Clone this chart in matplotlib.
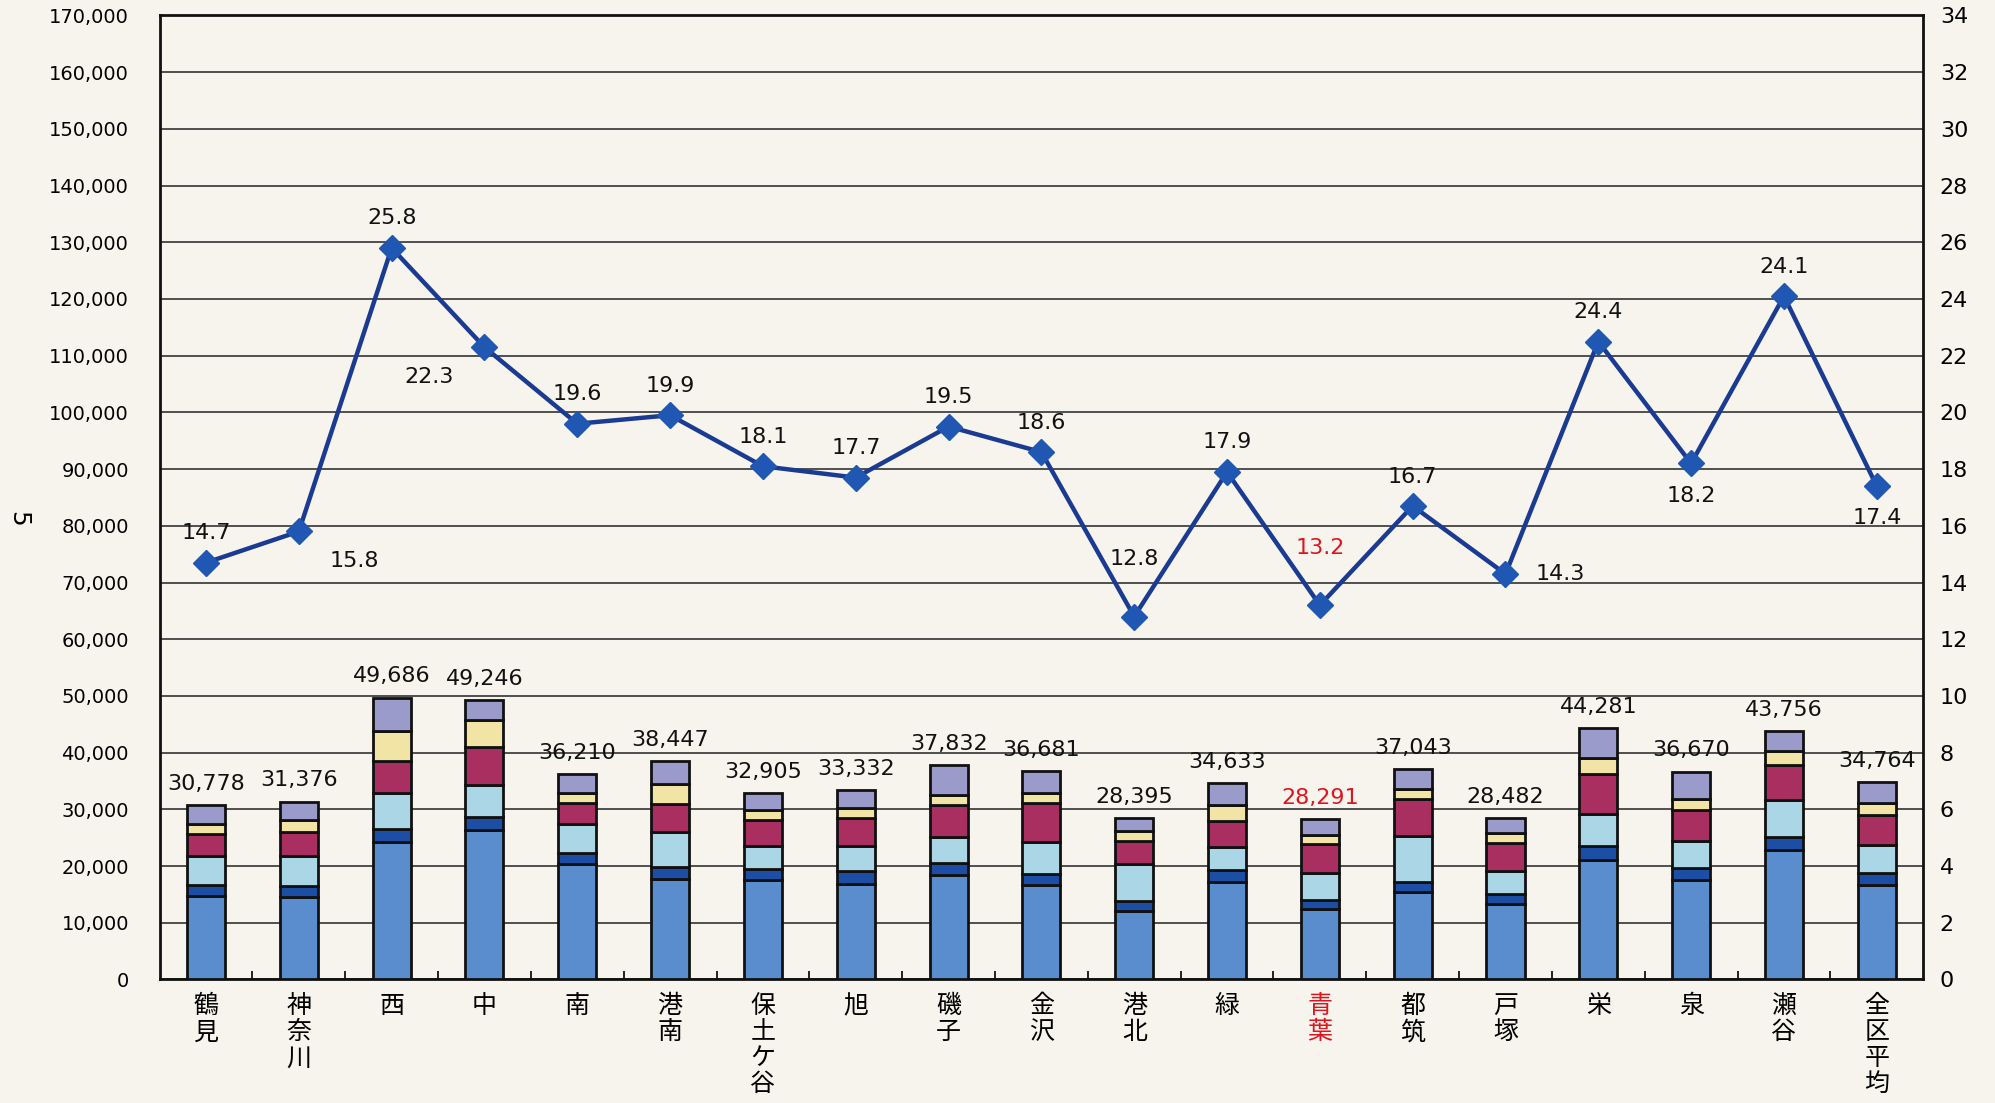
import numpy as np
import matplotlib.pyplot as plt

plt.rcParams['font.family'] = ['Noto Sans CJK JP', 'DejaVu Sans']

# Categories (wards)
wards = ['鶴\n見', '神\n奈\n川', '西', '中', '南', '港\n南', '保\n土\nケ\n谷', '旭', '磯\n子', '金\n沢',
         '港\n北', '緑', '青\n葉', '都\n筑', '戸\n塚', '栄', '泉', '瀬\n谷', '全\n区\n平\n均']

# Stacked segments (bottom -> top)
seg1 = [14700, 14600, 24300, 26300, 20300, 17800, 17500, 16900, 18400, 16600,
        12000, 17100, 12400, 15450, 13300, 21050, 17550, 22800, 16650]
seg2 = [1900, 1900, 2200, 2300, 2000, 2100, 1950, 2150, 2150, 2050,
        1850, 2150, 1700, 1650, 1850, 2500, 2050, 2350, 2050]
seg3 = [5100, 5250, 6400, 5700, 5100, 6100, 4100, 4550, 4550, 5550,
        6450, 4050, 4750, 8150, 3950, 5700, 4800, 6450, 5100]
seg4 = [3900, 4270, 5700, 6700, 3700, 5000, 4500, 4950, 5600, 6850,
        4150, 4650, 5100, 6500, 4900, 6900, 5550, 6250, 5250]
seg5 = [1800, 2050, 5300, 4700, 1750, 3500, 1750, 1600, 1800, 1900,
        1700, 2800, 1550, 1750, 1750, 2900, 1950, 2400, 2050]
seg6 = [3378, 3306, 5786, 3546, 3360, 3947, 3105, 3182, 5332, 3731,
        2245, 3883, 2791, 3543, 2732, 5231, 4770, 3506, 3664]
totals = [30778, 31376, 49686, 49246, 36210, 38447, 32905, 33332, 37832, 36681,
          28395, 34633, 28291, 37043, 28482, 44281, 36670, 43756, 34764]

# Line series (right axis) - plotted positions and printed labels
rate = [14.7, 15.8, 25.8, 22.3, 19.6, 19.9, 18.1, 17.7, 19.5, 18.6,
        12.8, 17.9, 13.2, 16.7, 14.3, 22.5, 18.2, 24.1, 17.4]
rate_labels = ['14.7', '15.8', '25.8', '22.3', '19.6', '19.9', '18.1', '17.7', '19.5', '18.6',
               '12.8', '17.9', '13.2', '16.7', '14.3', '24.4', '18.2', '24.1', '17.4']
label_pos = ['above', 'belowright', 'above', 'belowleft', 'above', 'above', 'above', 'above', 'above', 'above',
             'high', 'above', 'high', 'above', 'right', 'above', 'below', 'above', 'below']

highlight = 12  # 青葉

bg = '#f6f4ec'
colors = ['#5a8dce', '#1d4ea6', '#abd6e6', '#a82f5f', '#f2e4a4', '#9a9bcb']

fig = plt.figure(figsize=(19.95, 11.03), dpi=100, facecolor=bg)
ax = fig.add_axes([0.080, 0.112, 0.884, 0.874])
ax.set_facecolor(bg)

x = np.arange(len(wards))
bottom = np.zeros(len(wards))
for seg, c in zip([seg1, seg2, seg3, seg4, seg5, seg6], colors):
    ax.bar(x, seg, bottom=bottom, width=0.41, color=c, edgecolor='#111111', linewidth=2, zorder=3)
    bottom += np.array(seg)

for i, t in enumerate(totals):
    col = '#e0141e' if i == highlight else '#111111'
    ax.text(x[i], bottom[i] + 2000, f'{t:,}', ha='center', va='bottom', fontsize=16,
            color=col, family='DejaVu Sans', zorder=5)

ax.set_xlim(-0.5, len(wards) - 0.5)
ax.set_ylim(0, 170000)
ax.set_yticks(np.arange(0, 170001, 10000))
ax.set_yticklabels([f'{v:,}' for v in range(0, 170001, 10000)], fontsize=14, family='DejaVu Sans')
ax.tick_params(axis='y', length=0, pad=22)
ax.grid(axis='y', color='#333333', linewidth=1.2, zorder=0)

ax.set_xticks(x)
ax.set_xticklabels(wards, fontsize=18, linespacing=1.0, va='top')
ax.get_xticklabels()[highlight].set_color('#e0141e')
ax.tick_params(axis='x', length=0, pad=10)
ax.set_xticks(x[:-1] + 0.5, minor=True)
ax.tick_params(axis='x', which='minor', direction='in', length=6, width=1.2)

for s in ax.spines.values():
    s.set_linewidth(2)
    s.set_color('#111111')

ax2 = ax.twinx()
ax2.set_ylim(0, 34)
ax2.set_yticks(np.arange(0, 35, 2))
ax2.set_yticklabels([str(v) for v in range(0, 35, 2)], fontsize=16, family='DejaVu Sans')
ax2.tick_params(axis='y', length=0, pad=12)
for s in ax2.spines.values():
    s.set_visible(False)

ax2.plot(x, rate, color='#1b3a92', linewidth=3.2, marker='D', markersize=13,
         markerfacecolor='#1f57b3', markeredgecolor='#1f57b3', zorder=6)

offsets = {'above': (0, 14, 'center', 'bottom'), 'high': (0, 34, 'center', 'bottom'),
           'below': (0, -16, 'center', 'top'),
           'belowright': (22, -14, 'left', 'top'), 'belowleft': (-22, -14, 'right', 'top'),
           'right': (22, 0, 'left', 'center')}
for i, (v, lab, p) in enumerate(zip(rate, rate_labels, label_pos)):
    dx, dy, ha, va = offsets[p]
    col = '#e0141e' if i == highlight else '#111111'
    ax2.annotate(lab, (x[i], v), xytext=(dx, dy), textcoords='offset points', ha=ha, va=va,
                 fontsize=16, color=col, family='DejaVu Sans', zorder=7)

fig.text(0.009, 0.53, '5', rotation=-90, fontsize=18, ha='center', va='center', family='DejaVu Sans')

fig.savefig('out.png', dpi=100, facecolor=bg)
